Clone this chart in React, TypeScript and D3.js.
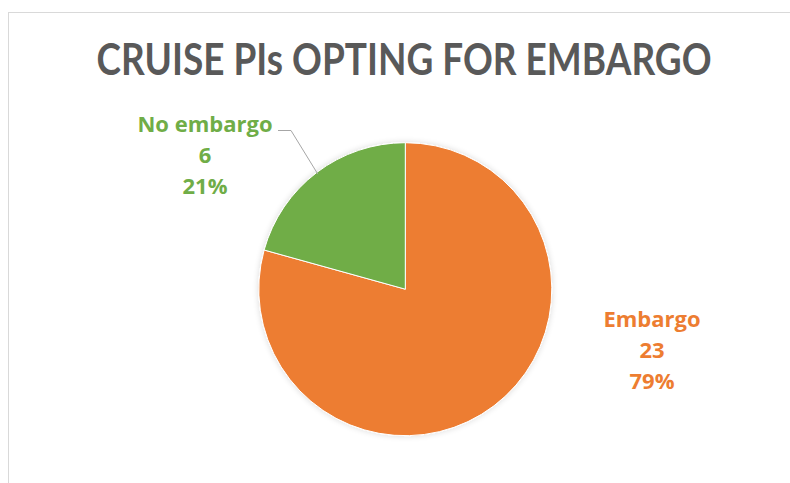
import { useEffect, useRef } from "react";
import * as d3 from "d3";

const categories = ["Embargo", "No embargo"];
const counts = [23, 6];
const colors = ["#ED7D31", "#70AD47"];
const title = "CRUISE PIs OPTING FOR EMBARGO";

const W = 790,
  H = 483;

const App = () => {
  const svgRef = useRef<SVGSVGElement>(null);

  useEffect(() => {
    const svg = d3.select(svgRef.current);
    svg.selectAll("*").remove();

    // chart frame, runs off the right and bottom edges
    svg
      .append("rect")
      .attr("x", 8.5)
      .attr("y", 12.5)
      .attr("width", 800)
      .attr("height", 500)
      .attr("fill", "#fff")
      .attr("stroke", "#d9d9d9")
      .attr("stroke-width", 1);

    // Lato is wider than the original font, squeeze it a bit
    svg
      .append("text")
      .attr("transform", "translate(404,75) scale(0.86,1)")
      .attr("text-anchor", "middle")
      .attr("fill", "#595959")
      .style("font", "bold 43px Lato, 'Open Sans', sans-serif")
      .text(title);

    const cx = 405.3,
      cy = 289.2,
      r = 146.5;

    const defs = svg.append("defs");
    const f = defs
      .append("filter")
      .attr("id", "shadow")
      .attr("x", "-20%")
      .attr("y", "-20%")
      .attr("width", "140%")
      .attr("height", "140%");
    f.append("feGaussianBlur").attr("in", "SourceAlpha").attr("stdDeviation", 3);
    f.append("feComponentTransfer")
      .append("feFuncA")
      .attr("type", "linear")
      .attr("slope", 0.15);
    const m = f.append("feMerge");
    m.append("feMergeNode");
    m.append("feMergeNode").attr("in", "SourceGraphic");

    const pie = d3
      .pie<number>()
      .sort(null)
      .value((d) => d);
    const arcs = pie(counts);
    const arc = d3.arc<d3.PieArcDatum<number>>().innerRadius(0).outerRadius(r);

    const g = svg
      .append("g")
      .attr("transform", `translate(${cx},${cy})`)
      .attr("filter", "url(#shadow)");

    g.selectAll("path")
      .data(arcs)
      .enter()
      .append("path")
      .attr("d", arc)
      .attr("fill", (d, i) => colors[i])
      .attr("stroke", "#fff")
      .attr("stroke-width", 1);

    const total = d3.sum(counts);

    // label positions (Excel places these by hand)
    const labelPos = [
      { x: 652, y: 327 },
      { x: 205, y: 132 },
    ];

    labelPos.forEach((p, i) => {
      const t = svg
        .append("text")
        .attr("text-anchor", "middle")
        .attr("fill", colors[i])
        .style("font", "bold 22px 'Open Sans', Lato, sans-serif");
      const lines = [
        categories[i],
        String(counts[i]),
        Math.round((counts[i] / total) * 100) + "%",
      ];
      lines.forEach((s, k) => {
        t.append("tspan")
          .attr("x", p.x)
          .attr("y", p.y + k * 31)
          .text(s);
      });
    });

    // leader line for the small slice
    const a = arcs[1];
    const mid = (a.startAngle + a.endAngle) / 2;
    const ex = cx + Math.sin(mid) * (r - 2);
    const ey = cy - Math.cos(mid) * (r - 2);
    svg
      .append("polyline")
      .attr("points", `278,130.5 291,130.5 ${ex},${ey}`)
      .attr("fill", "none")
      .attr("stroke", "#a6a6a6")
      .attr("stroke-width", 1);
  }, []);

  return (
    <div>
      <svg
        ref={svgRef}
        width={W}
        height={H}
        style={{ position: "absolute", left: 0, top: 0 }}
      />
    </div>
  );
};

export default App;
